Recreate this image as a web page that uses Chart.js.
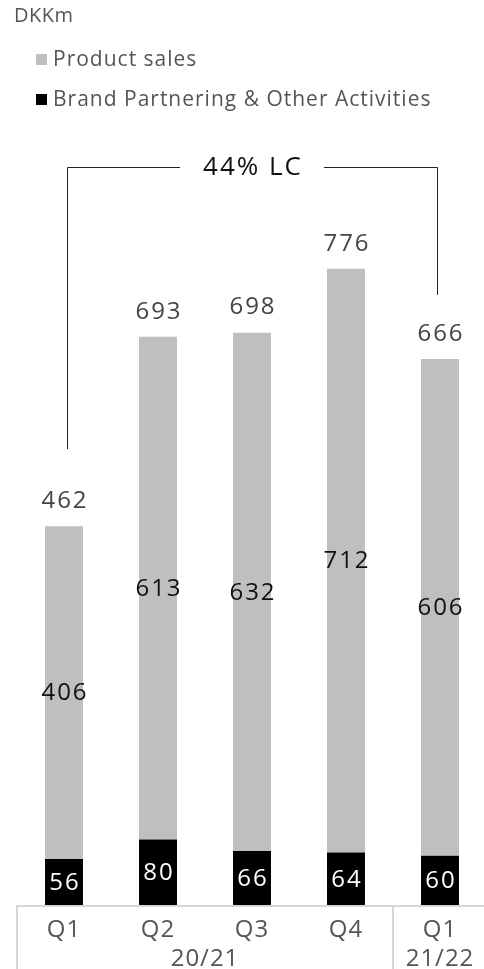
<!DOCTYPE html>
<html>
<head>
<meta charset="utf-8">
<script src="https://cdn.jsdelivr.net/npm/chart.js@4"></script>
<style>
    html, body { margin: 0; padding: 0; background: #fff; overflow: hidden; }
    body { width: 484px; height: 969px; position: relative; font-family: "Open Sans", sans-serif; }
    #wrap { position: absolute; left: 0; top: 0; width: 490px; height: 969px; }
    .unit { position: absolute; left: 14px; top: 1px; font-size: 20px; color: #555; letter-spacing: 0.5px; }
    .legend { position: absolute; left: 36px; font-size: 21px; color: #555; white-space: nowrap; letter-spacing: 1px; }
    .legend i { display: inline-block; width: 11px; height: 11px; margin-right: 6px; vertical-align: 1px; }
</style>
</head>
<body>
<div id="wrap"><canvas id="revenueChart" width="490" height="969"></canvas></div>
<div class="unit">DKKm</div>
<div class="legend" style="top:44px"><i style="background:#bfbfbf"></i>Product sales</div>
<div class="legend" style="top:84px"><i style="background:#000"></i>Brand Partnering &amp; Other Activities</div>
<script>
// Quarterly revenue, DKKm
var quarters = ['Q1', 'Q2', 'Q3', 'Q4', 'Q1'];
var years = [
    { label: '20/21', from: 0, to: 3 },
    { label: '21/22', from: 4, to: 4 }
];
var brandPartnering = [56, 80, 66, 64, 60];
var productSales = [406, 613, 632, 712, 606];
var totals = [462, 693, 698, 776, 666];
var bracketText = '44% LC';

var FONT = '"Open Sans", sans-serif';

// Value labels, bracket and the two-level x axis
var annotations = {
    id: 'annotations',
    afterDatasetsDraw: function (chart) {
        var ctx = chart.ctx;
        var area = chart.chartArea;
        var x = chart.scales.x;
        var bottomMeta = chart.getDatasetMeta(0);
        var topMeta = chart.getDatasetMeta(1);

        ctx.save();
        ctx.textAlign = 'center';
        ctx.textBaseline = 'middle';
        ctx.font = '24px ' + FONT;
        ctx.letterSpacing = '2px';

        bottomMeta.data.forEach(function (bar, i) {
            ctx.fillStyle = '#fff';
            ctx.fillText(brandPartnering[i], bar.x + 1, (bar.y + bar.base) / 2 + 1);
        });
        topMeta.data.forEach(function (bar, i) {
            ctx.fillStyle = '#111';
            ctx.fillText(productSales[i], bar.x + 1, (bar.y + bar.base) / 2 + 1);
            ctx.fillStyle = '#444';
            ctx.fillText(totals[i], bar.x + 1, bar.y - 25);
        });

        // bracket between first and last quarter
        var first = topMeta.data[0];
        var last = topMeta.data[topMeta.data.length - 1];
        var lx = first.x + 3, rx = last.x - 3;
        var by = chart.scales.y.getPixelForValue(900);
        var mid = (lx + rx) / 2;
        ctx.font = '26px ' + FONT;
        ctx.letterSpacing = '2px';
        var half = ctx.measureText(bracketText).width / 2 + 22;
        ctx.strokeStyle = '#222';
        ctx.lineWidth = 1;
        ctx.beginPath();
        ctx.moveTo(lx + 0.5, first.y - 77);
        ctx.lineTo(lx + 0.5, by + 0.5);
        ctx.lineTo(mid - half, by + 0.5);
        ctx.moveTo(mid + half, by + 0.5);
        ctx.lineTo(rx + 0.5, by + 0.5);
        ctx.lineTo(rx + 0.5, last.y - 64);
        ctx.stroke();
        ctx.fillStyle = '#111';
        ctx.fillText(bracketText, mid + 1, by + 1);

        // axis line and group separators
        var step = x.getPixelForValue(1) - x.getPixelForValue(0);
        ctx.strokeStyle = '#d6d6d6';
        ctx.lineWidth = 2;
        ctx.beginPath();
        ctx.moveTo(area.left, area.bottom + 1);
        ctx.lineTo(chart.width, area.bottom + 1);
        years.forEach(function (g) {
            var sx = Math.round(x.getPixelForValue(g.from) - step / 2);
            ctx.moveTo(sx, area.bottom);
            ctx.lineTo(sx, chart.height);
        });
        ctx.stroke();

        ctx.fillStyle = '#555';
        ctx.font = '24px ' + FONT;
        ctx.letterSpacing = '1px';
        quarters.forEach(function (q, i) {
            ctx.fillText(q, x.getPixelForValue(i), area.bottom + 25);
        });
        years.forEach(function (g) {
            var cx = (x.getPixelForValue(g.from) + x.getPixelForValue(g.to)) / 2;
            ctx.fillText(g.label, cx, area.bottom + 54);
        });
        ctx.restore();
    }
};

var ctx = document.getElementById('revenueChart').getContext('2d');
var revenueChart = new Chart(ctx, {
    type: 'bar',
    data: {
        labels: quarters,
        datasets: [{
            label: 'Brand Partnering & Other Activities',
            data: brandPartnering,
            backgroundColor: '#000'
        }, {
            label: 'Product sales',
            data: productSales,
            backgroundColor: '#bfbfbf'
        }]
    },
    options: {
        responsive: false,
        animation: false,
        categoryPercentage: 1,
        barPercentage: 0.404,
        layout: { padding: { left: 17, right: 3, top: 85, bottom: 64 } },
        plugins: {
            legend: { display: false },
            tooltip: { enabled: false }
        },
        scales: {
            x: { stacked: true, display: false },
            y: { stacked: true, display: false, min: 0, max: 1000 }
        }
    },
    plugins: [annotations]
});
</script>
</body>
</html>
